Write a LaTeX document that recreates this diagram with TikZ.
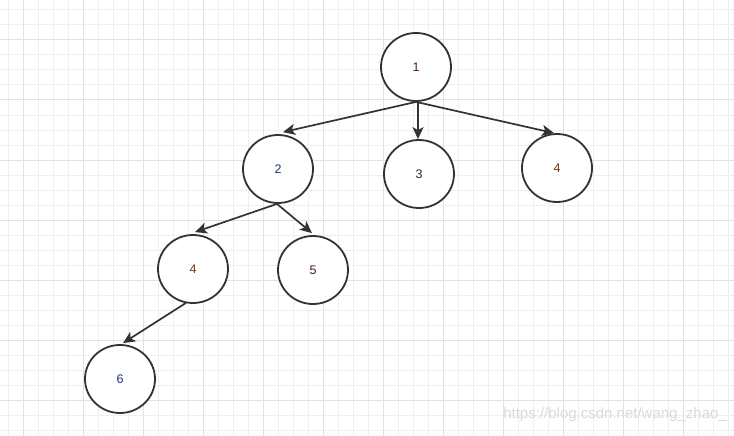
\documentclass[tikz,border=0pt]{standalone}
\usepackage{fontspec}
\setmainfont{Liberation Sans}
\usetikzlibrary{arrows.meta,shapes.geometric}
\definecolor{gridlight}{HTML}{EFEFEF}
\definecolor{griddark}{HTML}{E2E2E2}
\definecolor{edgecol}{HTML}{333333}
\definecolor{wm}{HTML}{DADADA}
\tikzset{
  treenode/.style={ellipse, draw=edgecol, line width=1.8pt, fill=white,
    minimum width=70pt, minimum height=68pt, inner sep=0pt,
    font=\fontsize{12.5}{14}\selectfont},
  treeedge/.style={draw=edgecol, line width=1.7pt,
    -{Stealth[length=12pt,width=11pt,inset=3pt]}}
}
\begin{document}
\begin{tikzpicture}[x=1pt,y=-1pt]
\useasboundingbox (0,0) rectangle (734,436);
\fill[white] (0,0) rectangle (734,436);
% grid
\foreach \i in {0,...,48} {\draw[gridlight, line width=1pt] (8+15*\i,0) -- (8+15*\i,436);}
\foreach \i in {0,...,29} {\draw[gridlight, line width=1pt] (0,10+15*\i) -- (734,10+15*\i);}
\foreach \i in {0,...,12} {\draw[griddark, line width=1pt] (23+60*\i,0) -- (23+60*\i,436);}
\foreach \i in {0,...,7} {\draw[griddark, line width=1pt] (0,40+60*\i) -- (734,40+60*\i);}
% nodes
\node[treenode, text={rgb,255:red,90;green,20;blue,90}] (n1) at (416,67) {1};
\node[treenode, text={rgb,255:red,30;green,50;blue,120}] (n2) at (278,169) {2};
\node[treenode, text={rgb,255:red,60;green,35;blue,30}] (n3) at (419,174) {3};
\node[treenode, text={rgb,255:red,110;green,50;blue,20}] (n4r) at (557,168) {4};
\node[treenode, text={rgb,255:red,110;green,50;blue,20}] (n4l) at (193,269) {4};
\node[treenode, text={rgb,255:red,70;green,30;blue,20}] (n5) at (313,270) {5};
\node[treenode, text={rgb,255:red,30;green,50;blue,120}] (n6) at (120,379) {6};
% edges
\coordinate (s1) at (n1.south);
\coordinate (s2) at ([xshift=-1pt]n2.south);
\coordinate (s4) at ([xshift=-7pt,yshift=1pt]n4l.south);
\draw[treeedge] (s1) -- ([xshift=5pt,yshift=2pt]n2.north);
\draw[treeedge] ([xshift=2pt]s1) -- ([xshift=-1pt]n3.north);
\draw[treeedge] (s1) -- ([xshift=-3pt]n4r.north);
\draw[treeedge] (s2) -- ([xshift=2pt,yshift=2pt]n4l.north);
\draw[treeedge] (s2) -- ([xshift=-1pt,yshift=2pt]n5.north);
\draw[treeedge] (s4) -- ([xshift=3pt,yshift=1pt]n6.north);
% watermark
\node[anchor=east, text=wm, font=\fontsize{15}{17}\selectfont, inner sep=0pt] (wmk) at (727,415) {https://blog.csdn.net/wang\_zhao\_};
\end{tikzpicture}
\end{document}
